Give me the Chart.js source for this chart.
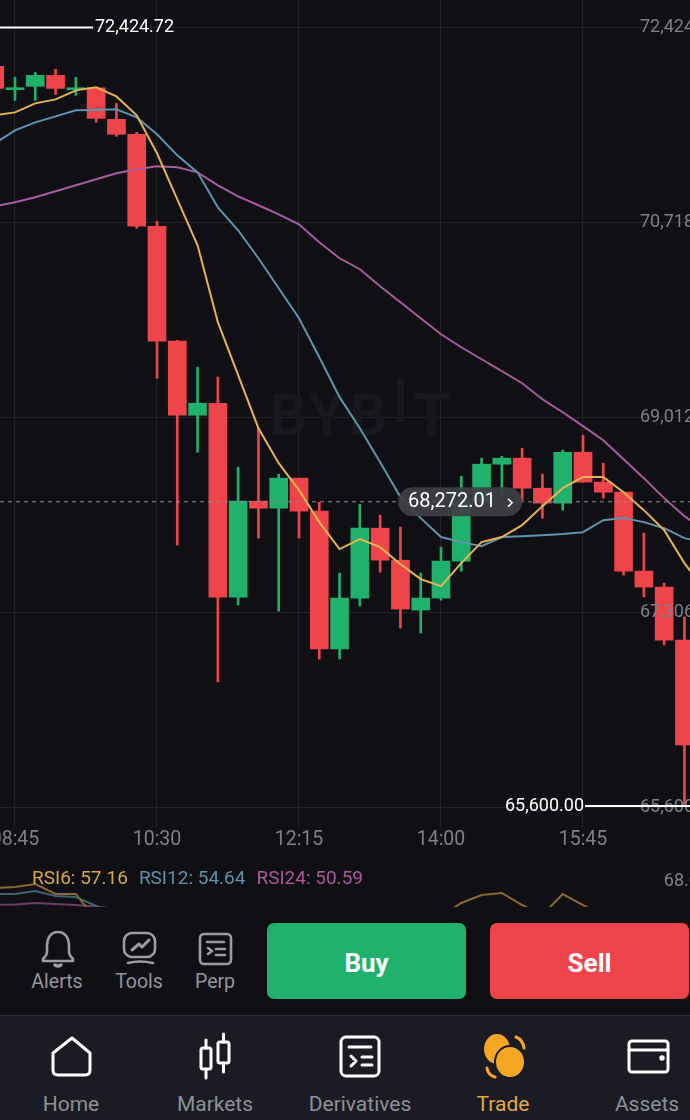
<!DOCTYPE html>
<html>
<head>
<meta charset="utf-8">
<script src="https://cdn.jsdelivr.net/npm/chart.js@4"></script>
<style>
  html, body { margin: 0; padding: 0; background: #101014; }
  body { width: 690px; height: 1120px; position: relative; overflow: hidden; font-family: Roboto, sans-serif; }
  canvas { position: absolute; left: 0; }
  #priceChart { top: 0; }
  #rsiChart { top: 847px; }
  #rsiLegend { position: absolute; left: 32px; top: 867px; font-size: 19px; line-height: 22px; white-space: nowrap; }
  #rsiLegend span { margin-right: 11px; }
  #toolbar { position: absolute; left: 0; top: 907px; width: 690px; height: 108px; background: #101014; }
  #navbar { position: absolute; left: 0; top: 1015px; width: 690px; height: 105px; background: #1a1b23; border-top: 1px solid #2b2c33; box-sizing: border-box; }
  #icons { position: absolute; left: 0; top: 907px; }
  .btn { position: absolute; top: 923px; width: 199px; height: 76px; border-radius: 7px; color: #fff; font-weight: 700; font-size: 26px; line-height: 80px; text-align: center; }
  .lbl { position: absolute; transform: translateX(-50%); white-space: nowrap; color: #8e9097; }
  .tool { top: 970px; font-size: 19.5px; color: #94969c; }
  .nav { top: 1092px; font-size: 21px; }
</style>
</head>
<body>
<canvas id="priceChart" width="722" height="860"></canvas>
<canvas id="rsiChart" width="722" height="60"></canvas>

<div id="rsiLegend"><span style="color:#d9a945">RSI6: 57.16</span><span style="color:#5b93ad">RSI12: 54.64</span><span style="color:#a9599c">RSI24: 50.59</span></div>

<div id="toolbar"></div>
<div id="navbar"></div>

<svg id="icons" width="690" height="213" viewBox="0 907 690 213" fill="none" stroke-linecap="round" stroke-linejoin="round">
  <g stroke="#9a9ca3" stroke-width="2.6">
    <path d="M58 932c-8 0-11 7-11 14v6c0 3-2 5-4 7v2h30v-2c-2-2-4-4-4-7v-6c0-7-3-14-11-14z"/>
    <path d="M55 965q3 2 6 0" stroke-width="3.5"/>
    <rect x="124" y="933" width="31" height="24" rx="8"/>
    <path d="M128 963q12-3 25 0"/>
    <path d="M132 950l7-6 3 3 7-7" stroke-width="3"/>
    <rect x="200" y="934" width="31" height="30" rx="4"/>
    <path d="M207 942h17M208 948l4 3-4 3M216 949h9M216 955h9"/>
  </g>
  <g stroke="#ffffff" stroke-width="3">
    <path d="M72 1038L90 1053V1070q0 5-5 5H58q-5 0-5-5V1053z"/>
    <rect x="201" y="1048" width="10" height="21" rx="2"/>
    <path d="M206 1040v8M206 1069v9"/>
    <rect x="218" y="1042" width="11" height="21" rx="2"/>
    <path d="M223.5 1034v8M223.5 1063v9"/>
    <rect x="341" y="1037" width="38" height="39" rx="5"/>
    <path d="M349 1047h22M351 1056l5 5-5 5M362 1057h10M362 1065h10"/>
    <rect x="629" y="1041" width="39" height="31" rx="3"/>
    <path d="M629 1050h39"/>
    <circle cx="662" cy="1058" r="1.2"/>
  </g>
  <g>
    <ellipse cx="497" cy="1049" rx="13" ry="15" fill="#f5a623"/>
    <ellipse cx="510" cy="1062" rx="15" ry="16" fill="#f5a623" stroke="#1a1b23" stroke-width="2"/>
    <path d="M516 1037q7 3 8 11M487 1068q1 7 8 9" stroke="#f5a623" stroke-width="3"/>
  </g>
</svg>

<div class="lbl tool" style="left:57px">Alerts</div>
<div class="lbl tool" style="left:139px">Tools</div>
<div class="lbl tool" style="left:215px">Perp</div>
<div class="btn" style="left:267px;background:#20b26c">Buy</div>
<div class="btn" style="left:490px;background:#ef454a">Sell</div>
<div class="lbl nav" style="left:71px">Home</div>
<div class="lbl nav" style="left:215px">Markets</div>
<div class="lbl nav" style="left:360px">Derivatives</div>
<div class="lbl nav" style="left:503px;color:#e5a93c">Trade</div>
<div class="lbl nav" style="left:647px">Assets</div>

<script>
// candles, first one sits just past the left edge (index -1)
const firstIndex = -1;
const opens = [72084, 71880, 71909, 72005, 71880, 71896, 71620, 71489, 70684, 69678, 69030, 69135, 67438, 68278, 68216, 68479, 68190, 66983, 67429, 68041, 67761, 67324, 67429, 67753, 68269, 68601, 68654, 68391, 68260, 68706, 68444, 68356, 67665, 67525, 67061];
const closes = [71891, 71897, 72005, 71891, 71897, 71629, 71489, 70684, 69678, 69030, 69135, 67438, 68278, 68216, 68479, 68190, 66983, 67429, 68041, 67761, 67333, 67429, 67753, 68269, 68601, 68654, 68391, 68260, 68706, 68444, 68356, 67665, 67525, 67061, 66143];
const highs = [72100, 71988, 72031, 72058, 71988, 71896, 71760, 71506, 70728, 69686, 69450, 69363, 68575, 68916, 68514, 68479, 68269, 67648, 68251, 68155, 68050, 67648, 67875, 68496, 68654, 68671, 68741, 68514, 68724, 68855, 68610, 68356, 67998, 67560, 67263];
const lows = [71880, 71786, 71786, 71839, 71830, 71594, 71471, 70666, 69354, 67893, 68706, 66694, 67368, 67954, 67315, 67954, 66895, 66895, 67359, 67656, 67166, 67123, 67411, 67665, 68269, 68330, 68286, 68129, 68199, 68444, 68304, 67630, 67438, 67018, 65600];

// moving averages, one more point than candles because they run off the right edge
const maFast = [71655, 71681, 71760, 71795, 71874, 71900, 71821, 71655, 71323, 70920, 70518, 69844, 69380, 68916, 68610, 68374, 68094, 67858, 67945, 67875, 67726, 67595, 67534, 67735, 67919, 67963, 68068, 68234, 68391, 68488, 68488, 68356, 68199, 68024, 67735, 67499];
const maMid = [71410, 71524, 71594, 71646, 71699, 71703, 71708, 71638, 71489, 71305, 71156, 70850, 70649, 70404, 70141, 69879, 69538, 69188, 68916, 68619, 68313, 68129, 67963, 67919, 67884, 67963, 67971, 67980, 67989, 68006, 68111, 68129, 68094, 68041, 67954, 67919];
const maSlow = [70859, 70894, 70938, 70990, 71043, 71095, 71148, 71183, 71209, 71200, 71156, 71043, 70946, 70868, 70789, 70701, 70544, 70404, 70308, 70159, 70019, 69879, 69739, 69625, 69520, 69415, 69310, 69170, 69056, 68934, 68811, 68645, 68479, 68304, 68146, 68024];

// rsi pane, only the part above the cut is visible so the rest stays empty
const rsi6 = [64.5, 65, 66.5, 61.5, 61.5, 48.5, null, null, null, null, null, null, null, null, null, null, null, null, null, null, null, null, 50.5, 57, 61, 62, 56, 51, 61.5, 56, 50];
const rsi12 = [61.5, 61.5, 63, 60.5, 60, 55.5, 51];
const rsi24 = [56, 56.25, 57, 56.5, 56, 55.25, 54];

const priceTicks = [72424.72, 70718.54, 69012.36, 67306.18, 65600];
const timeTickIndex = [0, 7, 14, 21, 28];
const timeLabels = ["08:45", "10:30", "12:15", "14:00", "15:45"];
const rsiTicks = [68];

const highPrice = 72424.72;
const lowPrice = 65600;
const lastPrice = 68272.01;

const UP = "#20b26c";
const DOWN = "#ef454a";
const GRID = "#232327";
const AXIS_TEXT = "#7f8085";

const money = (v) => v.toLocaleString("en-US", { minimumFractionDigits: 2, maximumFractionDigits: 2 });
const atIndex = (arr) => arr.map((v, i) => ({ x: i + firstIndex, y: v }));
const candleColors = opens.map((o, i) => (closes[i] >= o ? UP : DOWN));

// same mapping in both charts: 20.29px per candle, index 0 at x=15
const xMin = -15 / 20.2857;
const xMax = (722 - 15) / 20.2857;

// let the plot fill the canvas, tick labels may hang over the edges
const noPadding = (s) => {
  s.paddingLeft = s.paddingRight = s.paddingTop = s.paddingBottom = 0;
};

// watermark, and the high/low/last price markers
const overlayPlugin = {
  id: "overlay",
  beforeDatasetsDraw(chart) {
    const c = chart.ctx;
    c.save();
    c.fillStyle = "#18181c";
    c.font = "700 60px Roboto";
    c.textBaseline = "alphabetic";
    c.fillText("B", 269, 435);
    c.fillText("Y", 308, 435);
    c.fillText("B", 349, 435);
    c.fillText("T", 413, 435);
    c.fillRect(397, 378, 7, 44);
    c.restore();
  },
  afterDraw(chart) {
    const c = chart.ctx;
    const y = chart.scales.y;
    const highY = y.getPixelForValue(highPrice);
    const lowY = y.getPixelForValue(lowPrice) - 1;
    const lastY = y.getPixelForValue(lastPrice);
    c.save();
    c.font = "18px Roboto";
    c.textBaseline = "middle";

    c.strokeStyle = "#ffffff";
    c.lineWidth = 2;
    c.beginPath();
    c.moveTo(0, highY);
    c.lineTo(93, highY);
    c.moveTo(585, lowY);
    c.lineTo(690, lowY);
    c.stroke();
    c.fillStyle = "#ffffff";
    c.textAlign = "left";
    c.fillText(money(highPrice), 95, highY);
    c.textAlign = "right";
    c.fillText(money(lowPrice), 584, lowY);

    c.strokeStyle = "#8b8b90";
    c.lineWidth = 1;
    c.setLineDash([4, 4]);
    c.beginPath();
    c.moveTo(0, lastY);
    c.lineTo(690, lastY);
    c.stroke();
    c.setLineDash([]);

    c.fillStyle = "rgba(62, 63, 69, 0.93)";
    c.beginPath();
    c.roundRect(398, lastY - 14.5, 124, 29, 14.5);
    c.fill();
    c.fillStyle = "#ffffff";
    c.textAlign = "left";
    c.font = "20px Roboto";
    c.fillText(money(lastPrice), 408, lastY);
    c.strokeStyle = "#ffffff";
    c.lineWidth = 1.6;
    c.beginPath();
    c.moveTo(508, lastY - 3);
    c.lineTo(512, lastY + 1);
    c.lineTo(508, lastY + 5);
    c.stroke();
    c.restore();
  },
};

const lineSet = (data, color, order) => ({
  type: "line",
  data: atIndex(data),
  borderColor: color,
  borderWidth: 2,
  pointRadius: 0,
  tension: 0,
  order,
});

new Chart(document.getElementById("priceChart"), {
  type: "bar",
  plugins: [overlayPlugin],
  data: {
    datasets: [
      lineSet(maFast, "#e6b44f", 1),
      lineSet(maMid, "#5e94ad", 2),
      lineSet(maSlow, "#a95b9e", 3),
      {
        label: "body",
        data: atIndex(opens.map((o, i) => [o, closes[i]])),
        backgroundColor: candleColors,
        barThickness: 18,
        grouped: false,
        order: 4,
      },
      {
        label: "wick",
        data: atIndex(lows.map((l, i) => [l, highs[i]])),
        backgroundColor: candleColors,
        barThickness: 2,
        grouped: false,
        order: 5,
      },
    ],
  },
  options: {
    responsive: false,
    animation: false,
    events: [],
    layout: { padding: 0 },
    plugins: { legend: { display: false }, tooltip: { enabled: false } },
    scales: {
      x: {
        type: "linear",
        min: xMin,
        max: xMax,
        offset: false,
        afterBuildTicks: (s) => {
          s.ticks = timeTickIndex.map((v) => ({ value: v }));
        },
        afterFit: (s) => {
          s.height = 53;
          noPadding(s);
        },
        grid: { color: GRID, offset: false, tickLength: 20, tickColor: GRID },
        border: { display: false },
        ticks: {
          color: AXIS_TEXT,
          font: { family: "Roboto", size: 19.5 },
          padding: 1,
          maxRotation: 0,
          autoSkip: false,
          callback: (v) => timeLabels[timeTickIndex.indexOf(v)],
        },
      },
      y: {
        position: "right",
        min: 65600,
        max: 72665,
        afterBuildTicks: (s) => {
          s.ticks = priceTicks.map((v) => ({ value: v }));
        },
        afterFit: (s) => {
          s.width = 0;
          noPadding(s);
        },
        grid: { color: GRID, drawTicks: false },
        border: { display: false },
        ticks: {
          mirror: true,
          z: 1,
          color: AXIS_TEXT,
          font: { family: "Roboto", size: 18 },
          padding: -3,
          autoSkip: false,
          callback: (v) => money(v),
        },
      },
    },
  },
});

// rsi pane under the price chart
new Chart(document.getElementById("rsiChart"), {
  type: "line",
  data: {
    datasets: [
      lineSet(rsi6, "#87692f", 1),
      lineSet(rsi12, "#3f6274", 2),
      lineSet(rsi24, "#6e3d67", 3),
    ],
  },
  options: {
    responsive: false,
    animation: false,
    events: [],
    layout: { padding: 0 },
    plugins: { legend: { display: false }, tooltip: { enabled: false } },
    scales: {
      x: {
        type: "linear",
        min: xMin,
        max: xMax,
        afterFit: (s) => {
          s.height = 0;
          noPadding(s);
        },
        grid: { display: false },
        border: { display: false },
        ticks: { display: false },
      },
      y: {
        position: "right",
        min: 55,
        max: 85,
        afterBuildTicks: (s) => {
          s.ticks = rsiTicks.map((v) => ({ value: v }));
        },
        afterFit: (s) => {
          s.width = 0;
          noPadding(s);
        },
        grid: { display: false },
        border: { display: false },
        ticks: {
          mirror: true,
          color: AXIS_TEXT,
          font: { family: "Roboto", size: 18 },
          padding: -13,
          callback: (v) => v.toFixed(2),
        },
      },
    },
  },
});
</script>
</body>
</html>
